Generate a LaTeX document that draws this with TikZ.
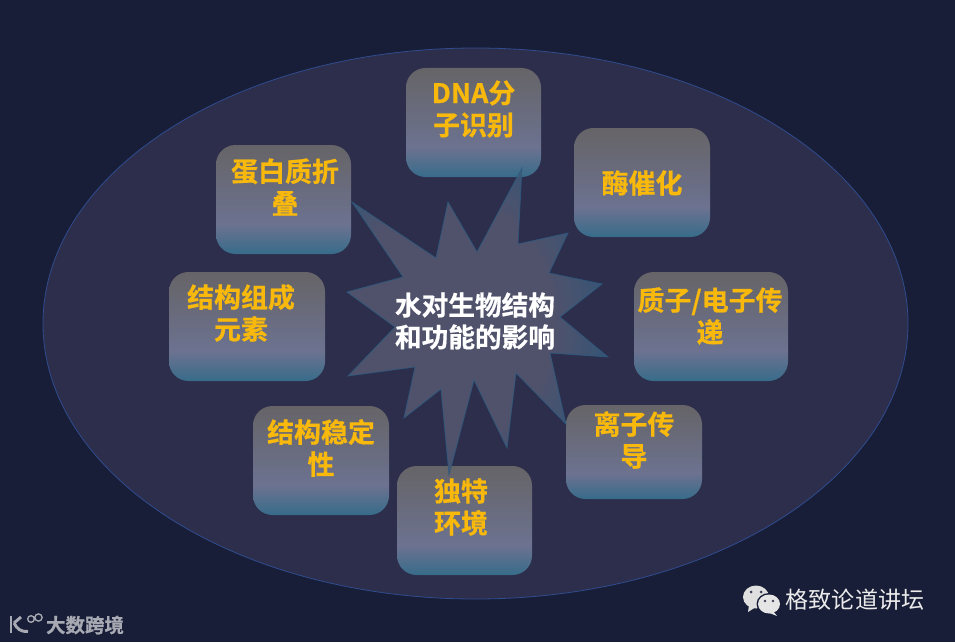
\documentclass[tikz,border=0pt]{standalone}
\usepackage{fontspec}
\setmainfont{Noto Sans CJK SC}[BoldFont={* Bold},BoldFeatures={FakeBold=0.6}]
\usetikzlibrary{shapes.geometric}
\definecolor{bgc}{HTML}{191E38}
\definecolor{elc}{HTML}{2C2E4C}
\definecolor{elb}{HTML}{2F4C8E}
\definecolor{gold}{HTML}{F8B90C}
\definecolor{boxtop}{HTML}{666467}
\definecolor{boxmid}{HTML}{6C7290}
\definecolor{boxbot}{HTML}{366C8A}
\definecolor{stin}{HTML}{54576F}
\definecolor{stout}{HTML}{2C5A80}
\pgfdeclareverticalshading{boxshade}{100bp}{color(0bp)=(boxbot);color(25bp)=(boxbot);color(38.5bp)=(boxmid);color(75bp)=(boxtop);color(100bp)=(boxtop)}
\pgfdeclareradialshading{starshade}{\pgfpoint{-8bp}{0bp}}{color(0bp)=(stin);color(20bp)=(stin);color(33bp)=(stout);color(60bp)=(stout)}
\tikzset{
  boxn/.style={rounded corners=19.5*0.75pt,shading=boxshade,inner sep=0pt,draw=none},
  goldt/.style={text=gold,font=\fontsize{20.2}{24}\selectfont\bfseries,align=center,inner sep=0pt},
  whitet/.style={text=white,font=\fontsize{20}{24}\selectfont\bfseries,align=center,inner sep=0pt},
}
\newcommand{\bx}[5]{\node[boxn,minimum width=#4*0.75pt,minimum height=#5*0.75pt] (#1) at (#2,#3) {};}
\begin{document}
\begin{tikzpicture}[x=0.75pt,y=-0.75pt]
\useasboundingbox (0,0) rectangle (955,642);
\fill[bgc] (0,0) rectangle (955,642);
\node[ellipse,draw=elb,fill=elc,line width=0.6pt,minimum width=865*0.75pt,minimum height=551*0.75pt,inner sep=0pt] (field) at (475.5,323.5) {};
\bx{b1}{473.5}{122.5}{135}{109}
\bx{b2}{642}{182.5}{136}{109}
\bx{b3}{711}{326.5}{154}{109}
\bx{b4}{634}{452}{136}{94}
\bx{b5}{464.5}{520.5}{135}{109}
\bx{b6}{321}{460.5}{136}{109}
\bx{b7}{247}{326.5}{156}{109}
\bx{b8}{283.5}{199.5}{135}{109}
\path[shading=starshade,draw=stout,line width=0.6pt,fill opacity=0.9,draw opacity=0.8]
  (522,168)--(518,244)--(568,233)--(549,273)--(602,284)--(560,317)--(608,357)--(550,353)--(566,424)--(516,373)--(507,448)--(474,380)--(449,475)--(441,389)--(404,418)--(415,367)--(348,376)--(395,327)--(347,292)--(403,277)--(352,202)--(436,258)--(448,202)--(477,252)--cycle;
\node[whitet] (center) at (475,321) {水对生物结构\\和功能的影响};
\node[goldt] (t1) at (473.5,109) {DNA分\\子识别};
\node[goldt] (t2) at (642,183) {酶催化};
\node[goldt] (t3) at (710,316) {质子/电子传\\递};
\node[goldt] (t4) at (634,440) {离子传\\导};
\node[goldt] (t5) at (461,507) {独特\\环境};
\node[goldt] (t6) at (321,448) {结构稳定\\性};
\node[goldt] (t7) at (241,313) {结构组成\\元素};
\node[goldt] (t8) at (285,187) {蛋白质折\\叠};
% WeChat icon
\fill[gray!25!white] (756,597) ellipse (13 and 11.5);
\fill[gray!25!white] (749,605)--(748,612)--(756,607)--cycle;
\fill[bgc] (769,604) ellipse (12.5 and 11);
\fill[gray!20!white] (769,604) ellipse (11 and 9.5);
\fill[gray!20!white] (773,611)--(777,616)--(767,612)--cycle;
\fill[bgc!85!white] (751,592) circle (1.5) (761,592) circle (1.5) (765,601) circle (1.3) (773,601) circle (1.3);
\node[text=white!92!black,font=\fontsize{17.3}{20}\selectfont,inner sep=0pt] (wx) at (855,600) {格致论道讲坛};
% logo
\begin{scope}[draw=white!62!bgc,line width=2.2pt]
\draw (11,616)--(11,632.5);
\draw (21,617)--(14,623);
\draw (14,623) .. controls (17,629) and (21,632) .. (28,631.5);
\draw[line width=1pt] (31,619) circle (3.3) (38.5,617.5) circle (3.6);
\end{scope}
\node[text=white!62!bgc,font=\fontsize{14.6}{16}\selectfont\bfseries,inner sep=0pt] (logo) at (85,625) {大数跨境};
\end{tikzpicture}
\end{document}
